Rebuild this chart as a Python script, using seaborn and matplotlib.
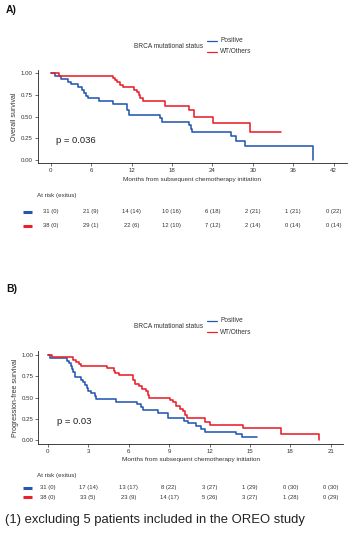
import numpy as np
import pandas as pd
import matplotlib
matplotlib.use("Agg")
import matplotlib.pyplot as plt
import matplotlib.transforms as mtrans
from matplotlib.lines import Line2D
import seaborn as sns

sns.set_theme(style="white")
plt.rcParams['font.family'] = ['Liberation Sans', 'DejaVu Sans']

# ---------------- data ----------------
groups = ["Positive", "WT/Others"]
colors = {"Positive": "#2556b5", "WT/Others": "#e8212b"}

# Panel A: overall survival
a_pos_t = [0, 0.6, 1.6, 2.6, 3.0, 4.1, 4.7, 5.0, 5.3, 5.6, 7.2, 9.2, 11.3, 11.7, 16.3, 16.6, 20.5, 20.8, 21.0, 26.8, 27.5, 28.8, 39.0]
a_pos_s = [1.0, 0.968, 0.935, 0.903, 0.871, 0.839, 0.806, 0.774, 0.742, 0.710, 0.677, 0.645, 0.58, 0.52, 0.48, 0.44, 0.40, 0.36, 0.32, 0.27, 0.22, 0.16, 0.0]
a_wt_t = [0, 1.2, 9.2, 9.5, 9.9, 10.3, 10.8, 11.3, 12.3, 12.8, 13.1, 13.3, 13.7, 17.0, 20.5, 21.3, 24.1, 29.6, 34.2]
a_wt_s = [1.0, 0.974, 0.947, 0.92, 0.895, 0.868, 0.842, 0.84, 0.81, 0.78, 0.745, 0.71, 0.68, 0.62, 0.57, 0.50, 0.43, 0.32, 0.32]

# Panel B: progression-free survival
b_pos_t = [0, 0.2, 1.4, 1.6, 1.7, 1.8, 1.9, 2.0, 2.5, 2.6, 2.8, 2.9, 3.0, 3.2, 3.5, 3.6, 5.1, 6.6, 6.9, 7.1, 8.2, 8.9, 10.1, 10.4, 11.0, 11.4, 11.7, 14.0, 14.4, 15.5]
b_pos_s = [1.0, 0.968, 0.935, 0.903, 0.871, 0.839, 0.806, 0.742, 0.71, 0.677, 0.645, 0.613, 0.58, 0.548, 0.516, 0.484, 0.452, 0.42, 0.387, 0.355, 0.323, 0.258, 0.226, 0.194, 0.161, 0.129, 0.097, 0.065, 0.032, 0.032]
b_wt_t = [0, 0.3, 1.9, 2.1, 2.3, 2.5, 4.4, 4.9, 5.0, 5.3, 6.3, 6.5, 6.8, 7.0, 7.3, 7.4, 7.5, 9.1, 9.3, 9.5, 9.8, 10.0, 10.2, 10.3, 11.7, 12.0, 14.5, 17.3, 20.1]
b_wt_s = [1.0, 0.974, 0.947, 0.921, 0.895, 0.868, 0.842, 0.816, 0.79, 0.763, 0.71, 0.66, 0.632, 0.605, 0.58, 0.53, 0.50, 0.47, 0.445, 0.40, 0.37, 0.34, 0.29, 0.26, 0.21, 0.18, 0.14, 0.07, 0.0]

a_ticks = [0, 6, 12, 18, 24, 30, 36, 42]
a_risk_pos = ["31 (0)", "21 (9)", "14 (14)", "10 (16)", "6 (18)", "2 (21)", "1 (21)", "0 (22)"]
a_risk_wt = ["38 (0)", "29 (1)", "22 (6)", "12 (10)", "7 (12)", "2 (14)", "0 (14)", "0 (14)"]

b_ticks = [0, 3, 6, 9, 12, 15, 18, 21]
b_risk_pos = ["31 (0)", "17 (14)", "13 (17)", "8 (22)", "3 (27)", "1 (29)", "0 (30)", "0 (30)"]
b_risk_wt = ["38 (0)", "33 (5)", "23 (9)", "14 (17)", "5 (26)", "3 (27)", "1 (28)", "0 (29)"]

y_ticks = [0.0, 0.25, 0.5, 0.75, 1.0]
y_ticklabels = ["0.00", "0.25", "0.50", "0.75", "1.00"]

W, H = 354, 550
fig = plt.figure(figsize=(W / 100, H / 100), dpi=100)
fig.patch.set_facecolor("white")


def px_axes(left, top, right, bottom):
    return fig.add_axes([left / W, 1 - bottom / H, (right - left) / W, (bottom - top) / H])


TXT = "#333333"


def panel(label, label_y, leg_y, box, xlim, ylim, ticks, pos_t, pos_s, wt_t, wt_s,
          ylabel, ptext, p_y, risk_y, row_pos_y, row_wt_y, risk_pos, risk_wt, xlabel_y):
    fig.text(6 / W, 1 - label_y / H, label, fontsize=7.5, fontweight="bold",
             va="center", ha="left", color="#111111")
    ax = px_axes(*box)
    df = pd.concat([
        pd.DataFrame({"t": pos_t, "s": pos_s, "g": groups[0]}),
        pd.DataFrame({"t": wt_t, "s": wt_s, "g": groups[1]}),
    ])
    sns.lineplot(data=df, x="t", y="s", hue="g", palette=colors, estimator=None,
                 drawstyle="steps-post", linewidth=1.15, ax=ax, legend=False, sort=False)
    ax.set_xlim(*xlim)
    ax.set_ylim(*ylim)
    ax.set_xticks(ticks)
    ax.set_xticklabels([str(t) for t in ticks])
    ax.set_yticks(y_ticks)
    ax.set_yticklabels(y_ticklabels)
    for s in ["top", "right"]:
        ax.spines[s].set_visible(False)
    for s in ["left", "bottom"]:
        ax.spines[s].set_color("#222222")
        ax.spines[s].set_linewidth(0.6)
    ax.tick_params(axis="both", which="both", length=2, width=0.5, color="#333333",
                   labelsize=4.4, labelcolor=TXT, pad=1.5, bottom=True, left=True)
    ax.set_xlabel("")
    ax.set_ylabel(ylabel, fontsize=5.0, color=TXT, labelpad=2)
    ax.text(0.06, p_y, ptext, transform=ax.transAxes, fontsize=6.8, color="#222222",
            va="center", ha="left")
    # x label
    fig.text(ax.get_position().x0 + 0.5 * ax.get_position().width + 0.0, 1 - xlabel_y / H,
             "Months from subsequent chemotherapy initiation", fontsize=4.6, color=TXT,
             ha="center", va="center")
    # legend
    fig.text(203 / W, 1 - (leg_y + 6) / H, "BRCA mutational status", fontsize=4.7,
             color=TXT, ha="right", va="center")
    for i, g in enumerate(groups):
        yy = 1 - (leg_y + 11 * i) / H
        fig.add_artist(Line2D([207 / W, 217 / W], [yy, yy], color=colors[g], lw=0.9))
        fig.text(220 / W, yy, g, fontsize=4.7, color=TXT, ha="left", va="center")
    # risk table
    fig.text(37 / W, 1 - risk_y / H, "At risk (exitus)", fontsize=4.5, color=TXT,
             ha="left", va="center")
    tr = mtrans.blended_transform_factory(ax.transData, fig.transFigure)
    for g, rows, yp in [(groups[0], risk_pos, row_pos_y), (groups[1], risk_wt, row_wt_y)]:
        yy = 1 - yp / H
        fig.add_artist(Line2D([23 / W, 32 / W], [yy, yy], color=colors[g], lw=2.2,
                              solid_capstyle="butt"))
        for t, lab in zip(ticks, rows):
            fig.text(t, yy, lab, transform=tr, fontsize=4.2, color=TXT,
                     ha="center", va="center")
    return ax


panel("A)", 10, 41, (37.7, 69.8, 347, 163.3), (-1.93, 44), (-0.04, 1.04), a_ticks,
      a_pos_t, a_pos_s, a_wt_t, a_wt_s, "Overall survival", "p = 0.036", 0.24,
      195, 211.7, 225.7, a_risk_pos, a_risk_wt, 180)

panel("B)", 289, 321, (38.3, 351.2, 343, 443.8), (-0.7, 21.9), (-0.045, 1.045), b_ticks,
      b_pos_t, b_pos_s, b_wt_t, b_wt_s, "Progression-free survival", "p = 0.03", 0.24,
      475, 488, 497, b_risk_pos, b_risk_wt, 460)

fig.text(5 / W, 1 - 520 / H, "(1) excluding 5 patients included in the OREO study",
         fontsize=9.4, color="#222222", ha="left", va="center")

fig.savefig("out.png", dpi=100, facecolor="white")
